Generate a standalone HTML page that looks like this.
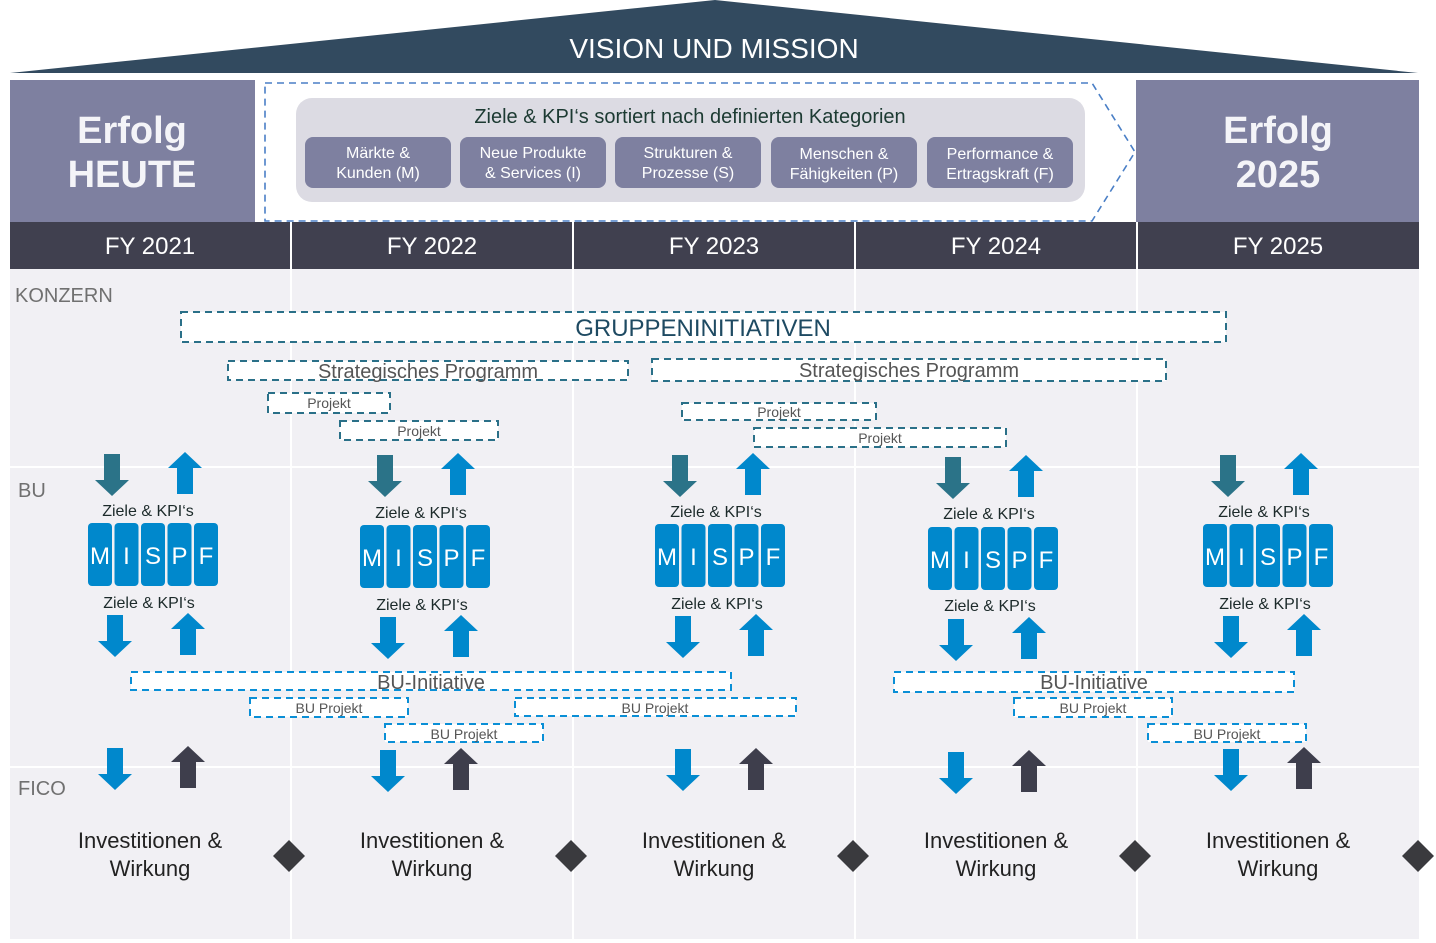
<!DOCTYPE html>
<html><head><meta charset="utf-8"><style>
html,body{margin:0;padding:0;background:#fff;}
svg{display:block;font-family:"Liberation Sans",Arial,sans-serif;}
</style></head><body>
<svg width="1436" height="943" viewBox="0 0 1436 943" xmlns="http://www.w3.org/2000/svg">
<!-- roof -->
<polygon points="715,0 1418,73 10,73" fill="#324a5f"/>
<text x="714" y="58" font-size="28" fill="#fff" text-anchor="middle">VISION UND MISSION</text>

<!-- Erfolg boxes -->
<rect x="10" y="80" width="245" height="142" fill="#7e80a0"/>
<text x="132" y="143" font-size="38" font-weight="bold" fill="#f4f4f8" text-anchor="middle">Erfolg</text>
<text x="132" y="187" font-size="38" font-weight="bold" fill="#f4f4f8" text-anchor="middle">HEUTE</text>
<rect x="1136" y="80" width="283" height="142" fill="#7e80a0"/>
<text x="1278" y="143" font-size="38" font-weight="bold" fill="#f4f4f8" text-anchor="middle">Erfolg</text>
<text x="1278" y="187" font-size="38" font-weight="bold" fill="#f4f4f8" text-anchor="middle">2025</text>

<!-- dashed arrow -->
<polygon points="265,83 1092,83 1135,152 1092,221 265,221" fill="#fff" stroke="#4a7fc6" stroke-width="1.6" stroke-dasharray="7,5"/>
<rect x="296" y="98" width="789" height="104" rx="16" fill="#dcdbe3"/>
<text x="690" y="123" font-size="20" fill="#1c3a32" text-anchor="middle">Ziele &amp; KPI‘s sortiert nach definierten Kategorien</text>
<g fill="#7e80a0">
<rect x="305" y="137" width="146" height="51" rx="8"/>
<rect x="460" y="137" width="146" height="51" rx="8"/>
<rect x="615" y="137" width="146" height="51" rx="8"/>
<rect x="771" y="137" width="146" height="51" rx="8"/>
<rect x="927" y="137" width="146" height="51" rx="8"/>
</g>
<g font-size="16" fill="#fff" text-anchor="middle">
<text x="378" y="158">Märkte &amp;</text><text x="378" y="178">Kunden (M)</text>
<text x="533" y="158">Neue Produkte</text><text x="533" y="178">&amp; Services (I)</text>
<text x="688" y="158">Strukturen &amp;</text><text x="688" y="178">Prozesse (S)</text>
<text x="844" y="159">Menschen &amp;</text><text x="844" y="179">Fähigkeiten (P)</text>
<text x="1000" y="159">Performance &amp;</text><text x="1000" y="179">Ertragskraft (F)</text>
</g>

<!-- FY bar -->
<rect x="10" y="222" width="1409" height="47" fill="#40404f"/>
<g font-size="24" fill="#fff" text-anchor="middle">
<text x="150" y="254">FY 2021</text><text x="432" y="254">FY 2022</text><text x="714" y="254">FY 2023</text><text x="996" y="254">FY 2024</text><text x="1278" y="254">FY 2025</text>
</g>

<!-- body -->
<rect x="10" y="269" width="1409" height="670" fill="#f1f0f4"/>
<g stroke="#fff" stroke-width="2">
<line x1="291" y1="222" x2="291" y2="940"/><line x1="573" y1="222" x2="573" y2="940"/><line x1="855" y1="222" x2="855" y2="940"/><line x1="1137" y1="222" x2="1137" y2="940"/>
<line x1="10" y1="467" x2="1419" y2="467"/><line x1="10" y1="767" x2="1419" y2="767"/>
</g>
<g font-size="20" fill="#707070">
<text x="15" y="302">KONZERN</text><text x="18" y="497">BU</text><text x="18" y="795">FICO</text>
</g>

<!-- Konzern dashed boxes -->
<g fill="#fff" stroke="#2a7088" stroke-width="2" stroke-dasharray="7,5">
<rect x="181" y="312" width="1045" height="30"/>
<rect x="228" y="361" width="400" height="19"/>
<rect x="652" y="359" width="514" height="22"/>
<rect x="268" y="393" width="122" height="20"/>
<rect x="340" y="421" width="158" height="19"/>
<rect x="682" y="403" width="194" height="17"/>
<rect x="754" y="428" width="252" height="19"/>
</g>
<text x="703" y="336" font-size="24" fill="#1e4a62" text-anchor="middle">GRUPPENINITIATIVEN</text>
<g font-size="20" fill="#555" text-anchor="middle">
<text x="428" y="378">Strategisches Programm</text><text x="909" y="377">Strategisches Programm</text>
</g>
<g font-size="14" fill="#555" text-anchor="middle">
<text x="329" y="408">Projekt</text><text x="419" y="436">Projekt</text><text x="779" y="417">Projekt</text><text x="880" y="443">Projekt</text>
</g>

<!-- BU dashed boxes -->
<g fill="#fff" stroke="#0a8fd6" stroke-width="2" stroke-dasharray="7,5">
<rect x="131" y="672" width="600" height="18"/>
<rect x="894" y="672" width="400" height="20"/>
<rect x="250" y="698" width="158" height="19"/>
<rect x="515" y="698" width="281" height="18"/>
<rect x="385" y="724" width="158" height="18"/>
<rect x="1014" y="698" width="158" height="19"/>
<rect x="1148" y="724" width="158" height="18"/>
</g>
<g font-size="20" fill="#555" text-anchor="middle"><text x="431" y="689">BU-Initiative</text><text x="1094" y="689">BU-Initiative</text></g>
<g font-size="14" fill="#555" text-anchor="middle">
<text x="329" y="713">BU Projekt</text><text x="655" y="713">BU Projekt</text><text x="464" y="739">BU Projekt</text><text x="1093" y="713">BU Projekt</text><text x="1227" y="739">BU Projekt</text>
</g>

<!-- arrows -->
<g fill="#2b7388">
<path d="M104,454h16v26h9l-17,16l-17,-16h9z"/>
<path d="M377,455h16v26h9l-17,16l-17,-16h9z"/>
<path d="M672,455h16v26h9l-17,16l-17,-16h9z"/>
<path d="M945,457h16v26h9l-17,16l-17,-16h9z"/>
<path d="M1220,455h16v26h9l-17,16l-17,-16h9z"/>
</g>
<g fill="#0088cc">
<path d="M177,494h16v-26h9l-17,-16l-17,16h9z"/>
<path d="M450,495h16v-26h9l-17,-16l-17,16h9z"/>
<path d="M745,495h16v-26h9l-17,-16l-17,16h9z"/>
<path d="M1018,497h16v-26h9l-17,-16l-17,16h9z"/>
<path d="M1293,495h16v-26h9l-17,-16l-17,16h9z"/>
<!-- lower -->
<path d="M107,615h16v26h9l-17,16l-17,-16h9z"/>
<path d="M380,617h16v26h9l-17,16l-17,-16h9z"/>
<path d="M675,616h16v26h9l-17,16l-17,-16h9z"/>
<path d="M948,619h16v26h9l-17,16l-17,-16h9z"/>
<path d="M1223,616h16v26h9l-17,16l-17,-16h9z"/>
<path d="M180,655h16v-26h9l-17,-16l-17,16h9z"/>
<path d="M453,657h16v-26h9l-17,-16l-17,16h9z"/>
<path d="M748,656h16v-26h9l-17,-16l-17,16h9z"/>
<path d="M1021,659h16v-26h9l-17,-16l-17,16h9z"/>
<path d="M1296,656h16v-26h9l-17,-16l-17,16h9z"/>
<!-- fico down -->
<path d="M107,748h16v26h9l-17,16l-17,-16h9z"/>
<path d="M380,750h16v26h9l-17,16l-17,-16h9z"/>
<path d="M675,749h16v26h9l-17,16l-17,-16h9z"/>
<path d="M948,752h16v26h9l-17,16l-17,-16h9z"/>
<path d="M1223,749h16v26h9l-17,16l-17,-16h9z"/>
</g>
<g fill="#3e3e4c">
<path d="M180,788h16v-26h9l-17,-16l-17,16h9z"/>
<path d="M453,790h16v-26h9l-17,-16l-17,16h9z"/>
<path d="M748,790h16v-26h9l-17,-16l-17,16h9z"/>
<path d="M1021,792h16v-26h9l-17,-16l-17,16h9z"/>
<path d="M1296,789h16v-26h9l-17,-16l-17,16h9z"/>
</g>

<!-- Ziele labels -->
<g font-size="16" fill="#1c2a2a" text-anchor="middle">
<text x="148" y="516">Ziele &amp; KPI‘s</text><text x="149" y="608">Ziele &amp; KPI‘s</text>
<text x="421" y="518">Ziele &amp; KPI‘s</text><text x="422" y="610">Ziele &amp; KPI‘s</text>
<text x="716" y="517">Ziele &amp; KPI‘s</text><text x="717" y="609">Ziele &amp; KPI‘s</text>
<text x="989" y="519">Ziele &amp; KPI‘s</text><text x="990" y="611">Ziele &amp; KPI‘s</text>
<text x="1264" y="517">Ziele &amp; KPI‘s</text><text x="1265" y="609">Ziele &amp; KPI‘s</text>
</g>

<!-- MISPF -->
<g id="m1" transform="translate(88,523)">
<g fill="#0088cc"><rect x="0" y="0" width="24" height="63" rx="4"/><rect x="26.5" y="0" width="24" height="63" rx="4"/><rect x="53" y="0" width="24" height="63" rx="4"/><rect x="79.5" y="0" width="24" height="63" rx="4"/><rect x="106" y="0" width="24" height="63" rx="4"/></g>
<g font-size="24" fill="#fff" text-anchor="middle"><text x="12" y="41">M</text><text x="38.5" y="41">I</text><text x="65" y="41">S</text><text x="91.5" y="41">P</text><text x="118" y="41">F</text></g>
</g>
<use href="#m1" transform="translate(272,2)"/>
<use href="#m1" transform="translate(567,1)"/>
<use href="#m1" transform="translate(840,4)"/>
<use href="#m1" transform="translate(1115,1)"/>

<!-- FICO text -->
<g font-size="22" fill="#222" text-anchor="middle">
<text x="150" y="848">Investitionen &amp;</text><text x="150" y="876">Wirkung</text>
<text x="432" y="848">Investitionen &amp;</text><text x="432" y="876">Wirkung</text>
<text x="714" y="848">Investitionen &amp;</text><text x="714" y="876">Wirkung</text>
<text x="996" y="848">Investitionen &amp;</text><text x="996" y="876">Wirkung</text>
<text x="1278" y="848">Investitionen &amp;</text><text x="1278" y="876">Wirkung</text>
</g>
<g fill="#3a3a3e">
<polygon points="289,840 305,856 289,872 273,856"/>
<polygon points="571,840 587,856 571,872 555,856"/>
<polygon points="853,840 869,856 853,872 837,856"/>
<polygon points="1135,840 1151,856 1135,872 1119,856"/>
<polygon points="1418,840 1434,856 1418,872 1402,856"/>
</g>
</svg>
</body></html>
